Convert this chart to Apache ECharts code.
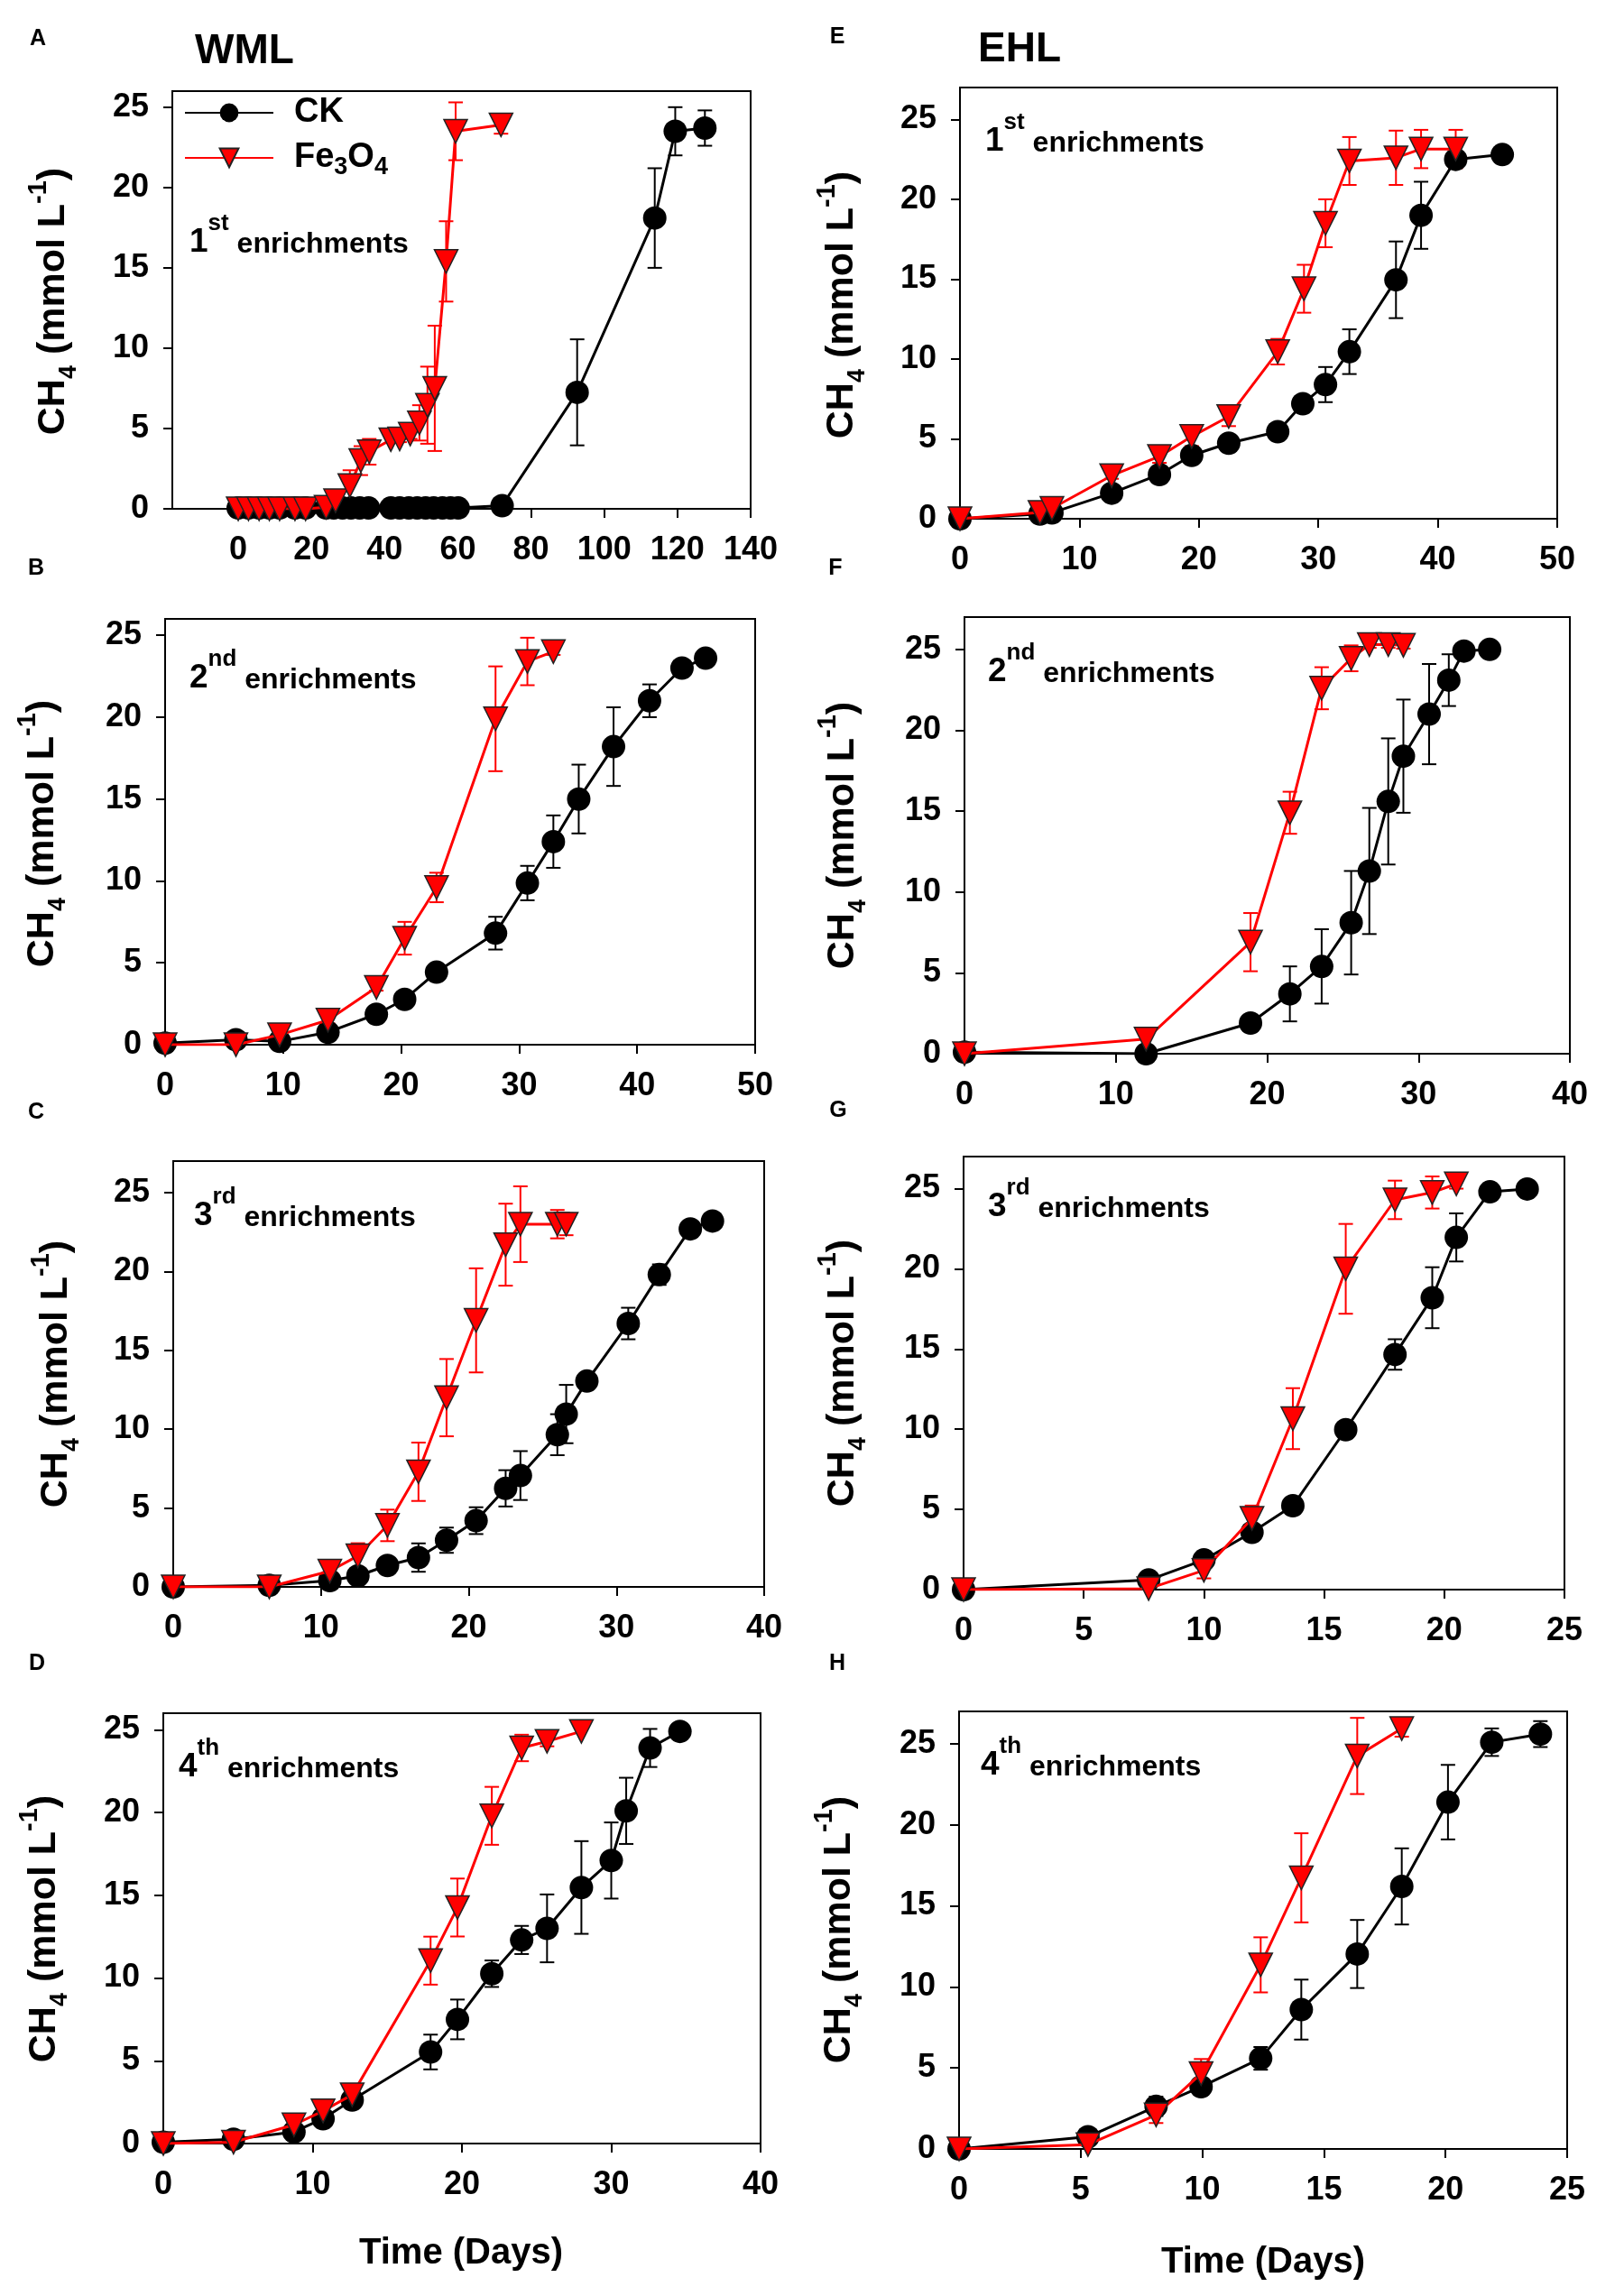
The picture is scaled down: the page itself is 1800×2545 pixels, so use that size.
<!DOCTYPE html>
<html>
<head>
<meta charset="utf-8">
<title>CH4 enrichments</title>
<script src="https://cdn.jsdelivr.net/npm/echarts@6/dist/echarts.min.js"></script>
<style>
  html, body { margin: 0; padding: 0; background: #fff; }
  #chart { width: 1800px; height: 2545px; }
</style>
</head>
<body>
<div id="chart"></div>
<script>
// ---- data (days, CH4 mmol/L, sd) ----
// A: WML 1st
const daysA_ck = [0, 2.8, 5.7, 8.5, 11.3, 15.5, 18.4, 24, 26.1, 28.5, 30.8, 33.2, 35.6, 41.7, 44.1, 46.6, 48.9, 51.2, 53.4, 55.8, 58, 60.1, 72.1, 92.6, 113.8, 119.4, 127.5];
const ckA = [0.05, 0.05, 0.05, 0.05, 0.05, 0.05, 0.05, 0.05, 0.05, 0.05, 0.05, 0.05, 0.05, 0.05, 0.05, 0.05, 0.05, 0.05, 0.05, 0.05, 0.05, 0.05, 0.2, 7.25, 18.1, 23.5, 23.7];
const ckA_err = [0, 0, 0, 0, 0, 0, 0, 0, 0, 0, 0, 0, 0, 0, 0, 0, 0, 0, 0, 0, 0, 0, 0, 3.3, 3.1, 1.5, 1.1];
const daysA_fe = [0, 2.8, 5.7, 8.5, 11.3, 15.5, 18.4, 24, 26.6, 30.5, 33.5, 35.8, 41.7, 44.1, 47, 49.5, 51.7, 53.7, 56.8, 59.4, 71.8];
const feA = [0, 0, 0, 0, 0, 0, 0, 0.1, 0.5, 1.45, 3.0, 3.55, 4.3, 4.35, 4.65, 5.35, 6.45, 7.5, 15.4, 23.5, 23.9];
const feA_err = [0, 0, 0, 0, 0, 0, 0, 0.1, 0.65, 0.95, 0.9, 0.8, 0.2, 0.2, 0.3, 1.1, 2.4, 3.9, 2.5, 1.8, 0.55];

// B: WML 2nd
const daysB_ck = [0, 6, 9.7, 13.8, 17.9, 20.3, 23.0, 28.0, 30.7, 32.9, 35.05, 38.0, 41.05, 43.8, 45.8];
const ckB = [0.1, 0.3, 0.2, 0.76, 1.86, 2.77, 4.43, 6.81, 9.87, 12.4, 15.0, 18.2, 21.0, 23.0, 23.6];
const ckB_err = [0, 0.1, 0.1, 0.2, 0.2, 0.2, 0.4, 1.0, 1.05, 1.6, 2.1, 2.4, 1.0, 0.3, 0.2];
const daysB_fe = [0, 6, 9.7, 13.8, 17.9, 20.3, 23.0, 28.0, 30.7, 32.9];
const feB = [0, 0, 0.6, 1.5, 3.5, 6.5, 9.6, 19.9, 23.4, 24.0];
const feB_err = [0, 0, 0.1, 0.2, 0.2, 1.0, 0.9, 3.2, 1.45, 0.2];

// C: WML 3rd
const daysC_ck = [0, 6.5, 10.6, 12.5, 14.5, 16.6, 18.5, 20.5, 22.5, 23.5, 26.0, 26.6, 28.0, 30.8, 32.9, 35.0, 36.5];
const ckC = [0, 0.1, 0.4, 0.7, 1.36, 1.86, 2.96, 4.2, 6.25, 7.06, 9.65, 10.96, 13.05, 16.7, 19.8, 22.7, 23.2];
const ckC_err = [0, 0, 0.1, 0.2, 0.2, 0.9, 0.8, 0.85, 1.15, 1.55, 1.3, 1.85, 0.5, 1.0, 0.65, 0.4, 0.5];
const daysC_fe = [0, 6.5, 10.6, 12.5, 14.5, 16.6, 18.5, 20.5, 22.5, 23.5, 26.0, 26.6];
const feC = [0, 0, 1.0, 1.97, 3.9, 7.3, 12.0, 16.9, 21.7, 23.0, 23.0, 23.0];
const feC_err = [0, 0, 0.5, 0.8, 1.0, 1.85, 2.45, 3.3, 2.6, 2.4, 0.9, 0.7];

// D: WML 4th
const daysD_ck = [0, 4.7, 8.75, 10.7, 12.65, 17.9, 19.7, 22.0, 24.0, 25.7, 28.0, 30.0, 31.0, 32.6, 34.6];
const ckD = [0.08, 0.26, 0.7, 1.5, 2.63, 5.53, 7.5, 10.26, 12.3, 13.0, 15.47, 17.1, 20.1, 23.9, 24.9];
const ckD_err = [0, 0.1, 0.2, 0.2, 0.2, 1.05, 1.2, 0.8, 0.85, 2.05, 2.8, 2.3, 2.0, 1.15, 0.2];
const daysD_fe = [0, 4.7, 8.75, 10.7, 12.65, 17.9, 19.7, 22.0, 24.0, 25.7, 28.0];
const feD = [0, 0.08, 1.13, 1.97, 2.95, 11.05, 14.26, 19.8, 23.9, 24.3, 24.9];
const feD_err = [0, 0, 0.1, 0.1, 0.2, 1.45, 1.75, 1.75, 0.8, 0.3, 0.1];

// E: EHL 1st
const daysE_ck = [0, 6.7, 7.7, 12.7, 16.7, 19.4, 22.5, 26.6, 28.7, 30.6, 32.6, 36.5, 38.6, 41.5, 45.4];
const ckE = [0, 0.3, 0.37, 1.6, 2.77, 3.97, 4.73, 5.45, 7.2, 8.4, 10.46, 14.96, 19.0, 22.5, 22.8];
const ckE_err = [0, 0.1, 0.1, 0.2, 0.2, 0.2, 0.2, 0.3, 0.35, 1.1, 1.4, 2.4, 2.1, 0.3, 0.2];
const daysE_fe = [0, 6.7, 7.7, 12.7, 16.7, 19.4, 22.5, 26.6, 28.8, 30.6, 32.6, 36.5, 38.6, 41.5];
const feE = [0, 0.4, 0.65, 2.7, 3.9, 5.15, 6.4, 10.46, 14.4, 18.5, 22.4, 22.6, 23.15, 23.15];
const feE_err = [0, 0.1, 0.1, 0.2, 0.4, 0.6, 0.6, 0.8, 1.5, 1.5, 1.5, 1.7, 1.2, 1.2];

// F: EHL 2nd
const daysF_ck = [0, 12.0, 18.9, 21.5, 23.6, 25.55, 26.75, 28.0, 29.0, 30.7, 32.0, 33.0, 34.7];
const ckF = [0.1, 0, 1.9, 3.7, 5.4, 8.1, 11.3, 15.6, 18.4, 21.0, 23.1, 24.9, 25.0];
const ckF_err = [0, 0, 0.3, 1.7, 2.3, 3.2, 3.9, 3.9, 3.5, 3.1, 1.6, 0.2, 0.2];
const daysF_fe = [0, 12.0, 18.9, 21.5, 23.6, 25.55, 26.75, 28.0, 29.0];
const feF = [0, 0.9, 6.9, 14.9, 22.6, 24.45, 25.3, 25.3, 25.25];
const feF_err = [0, 0.1, 1.8, 1.3, 1.3, 0.8, 0.2, 0.2, 0.2];

// G: EHL 3rd
const daysG_ck = [0, 7.7, 10.0, 12.0, 13.7, 15.9, 17.95, 19.5, 20.5, 21.9, 23.45];
const ckG = [0, 0.6, 1.85, 3.57, 5.23, 9.97, 14.66, 18.2, 21.96, 24.8, 24.98];
const ckG_err = [0, 0.1, 0.2, 0.3, 0.3, 0.3, 0.95, 1.9, 1.5, 0.2, 0.2];
const daysG_fe = [0, 7.7, 10.0, 12.0, 13.7, 15.9, 17.95, 19.5, 20.5];
const feG = [0, 0.06, 1.2, 4.44, 10.66, 20.0, 24.3, 24.76, 25.3];
const feG_err = [0, 0, 0.5, 0.8, 1.9, 2.8, 1.2, 1.0, 0.3];

// H: EHL 4th
const daysH_ck = [0, 5.3, 8.1, 9.95, 12.4, 14.07, 16.37, 18.2, 20.1, 21.9, 23.9];
const ckH = [0, 0.75, 2.63, 3.84, 5.59, 8.6, 12.03, 16.2, 21.4, 25.1, 25.6];
const ckH_err = [0, 0.4, 0.6, 0.3, 0.7, 1.85, 2.1, 2.35, 2.3, 0.85, 0.8];
const daysH_fe = [0, 5.3, 8.1, 9.95, 12.4, 14.07, 16.37, 18.2];
const feH = [0, 0.27, 2.1, 4.65, 11.36, 16.73, 24.25, 25.94];
const feH_err = [0, 0, 0.5, 0.9, 1.7, 2.75, 2.35, 0.5];

// tick labels
const xTicksA = [0, 20, 40, 60, 80, 100, 120, 140];
const xTicks50 = [0, 10, 20, 30, 40, 50];
const xTicks40 = [0, 10, 20, 30, 40];
const xTicks25 = [0, 5, 10, 15, 20, 25];
const yTicks = [0, 5, 10, 15, 20, 25];

// ---- layout ----
const FONT = '"Liberation Sans", Arial, sans-serif';
const RED = '#ff0000';

// box = [left, top, right, bottom] in page px
const panels = [
  { id: 'A', box: [191, 101, 832, 564], xMin: -18, xMax: 140, xTicks: xTicksA, yMax: 26,
    ck: [daysA_ck, ckA, ckA_err], fe: [daysA_fe, feA, feA_err],
    tag: [42, 43], note: ['1', 'st', 210, 261], yTitle: [59, 334] },
  { id: 'B', box: [183, 686, 837, 1158], xMin: 0, xMax: 50, xTicks: xTicks50, yMax: 26,
    ck: [daysB_ck, ckB, ckB_err], fe: [daysB_fe, feB, feB_err],
    tag: [40, 630], note: ['2', 'nd', 210, 744], yTitle: [47, 924] },
  { id: 'C', box: [192, 1287, 847, 1759], xMin: 0, xMax: 40, xTicks: xTicks40, yMax: 27,
    ck: [daysC_ck, ckC, ckC_err], fe: [daysC_fe, feC, feC_err],
    tag: [40, 1233], note: ['3', 'rd', 215, 1340], yTitle: [62, 1523] },
  { id: 'D', box: [181, 1899, 843, 2376], xMin: 0, xMax: 40, xTicks: xTicks40, yMax: 26,
    ck: [daysD_ck, ckD, ckD_err], fe: [daysD_fe, feD, feD_err],
    tag: [41, 1844], note: ['4', 'th', 198, 1951], yTitle: [49, 2138], xTitle: [511, 2498] },
  { id: 'E', box: [1064, 97, 1726, 575], xMin: 0, xMax: 50, xTicks: xTicks50, yMax: 27,
    ck: [daysE_ck, ckE, ckE_err], fe: [daysE_fe, feE, feE_err],
    tag: [928, 41], note: ['1', 'st', 1092, 149], yTitle: [933, 338] },
  { id: 'F', box: [1069, 684, 1740, 1168], xMin: 0, xMax: 40, xTicks: xTicks40, yMax: 27,
    ck: [daysF_ck, ckF, ckF_err], fe: [daysF_fe, feF, feF_err],
    tag: [926, 630], note: ['2', 'nd', 1095, 737], yTitle: [934, 926] },
  { id: 'G', box: [1068, 1282, 1734, 1762], xMin: 0, xMax: 25, xTicks: xTicks25, yMax: 27,
    ck: [daysG_ck, ckG, ckG_err], fe: [daysG_fe, feG, feG_err],
    tag: [929, 1231], note: ['3', 'rd', 1095, 1330], yTitle: [934, 1522] },
  { id: 'H', box: [1063, 1897, 1737, 2382], xMin: 0, xMax: 25, xTicks: xTicks25, yMax: 27,
    ck: [daysH_ck, ckH, ckH_err], fe: [daysH_fe, feH, feH_err],
    tag: [928, 1844], note: ['4', 'th', 1087, 1949], yTitle: [930, 2139], xTitle: [1400, 2508] },
];

function errorBars(color) {
  return function (params, api) {
    const x = api.value(0);
    const lo = api.value(1);
    const hi = api.value(2);
    if (hi - lo < 0.35) return;
    const top = api.coord([x, hi]);
    const bot = api.coord([x, lo]);
    const w = 8;
    const style = { stroke: color, lineWidth: 2 };
    return {
      type: 'group',
      children: [
        { type: 'line', shape: { x1: top[0], y1: top[1], x2: bot[0], y2: bot[1] }, style },
        { type: 'line', shape: { x1: top[0] - w, y1: top[1], x2: top[0] + w, y2: top[1] }, style },
        { type: 'line', shape: { x1: bot[0] - w, y1: bot[1], x2: bot[0] + w, y2: bot[1] }, style },
      ],
    };
  };
}

const grids = [], xAxes = [], yAxes = [], series = [], graphics = [];

const axisCommon = {
  axisLine: { show: true, onZero: false, lineStyle: { color: '#000', width: 2 } },
  axisTick: { show: true, inside: false, length: 10, lineStyle: { color: '#000', width: 2 } },
  splitLine: { show: false },
};
const labelCommon = { color: '#000', fontSize: 36, fontWeight: 'bold', fontFamily: FONT };

panels.forEach((p, i) => {
  const [l, t, r, b] = p.box;
  grids.push({ left: l, top: t, width: r - l, height: b - t, show: true,
    borderColor: '#000', borderWidth: 2, backgroundColor: 'transparent' });

  xAxes.push(Object.assign({}, axisCommon, {
    type: 'value', gridIndex: i, min: p.xMin, max: p.xMax,
    axisTick: Object.assign({}, axisCommon.axisTick, { customValues: p.xTicks }),
    axisLabel: Object.assign({}, labelCommon, { margin: 28, customValues: p.xTicks }),
  }));
  yAxes.push(Object.assign({}, axisCommon, {
    type: 'value', gridIndex: i, min: 0, max: p.yMax,
    axisTick: Object.assign({}, axisCommon.axisTick, { customValues: yTicks }),
    axisLabel: Object.assign({}, labelCommon, { margin: 26, customValues: yTicks }),
  }));

  const [dc, vc, ec] = p.ck;
  const [df, vf, ef] = p.fe;

  series.push({
    type: 'custom', xAxisIndex: i, yAxisIndex: i, z: 1, silent: true,
    renderItem: errorBars('#000'), encode: { x: 0, y: [1, 2] },
    data: dc.map((d, k) => [d, vc[k] - ec[k], vc[k] + ec[k]]),
  });
  series.push({
    type: 'custom', xAxisIndex: i, yAxisIndex: i, z: 1, silent: true,
    renderItem: errorBars(RED), encode: { x: 0, y: [1, 2] },
    data: df.map((d, k) => [d, vf[k] - ef[k], vf[k] + ef[k]]),
  });
  series.push({
    name: 'CK', type: 'line', xAxisIndex: i, yAxisIndex: i, z: 3,
    symbol: 'circle', symbolSize: 26,
    itemStyle: { color: '#000' },
    lineStyle: { color: '#000', width: 3 },
    data: dc.map((d, k) => [d, vc[k]]),
  });
  series.push({
    name: 'Fe3O4', type: 'line', xAxisIndex: i, yAxisIndex: i, z: 4,
    symbol: 'triangle', symbolRotate: 180, symbolSize: 26,
    itemStyle: { color: RED, borderColor: '#222', borderWidth: 1.5 },
    lineStyle: { color: RED, width: 3 },
    data: df.map((d, k) => [d, vf[k]]),
  });

  // panel letter
  graphics.push({ type: 'text', x: p.tag[0], y: p.tag[1],
    style: { text: p.id, font: 'bold 25px ' + FONT, fill: '#000', align: 'center', verticalAlign: 'middle' } });

  // enrichment note
  graphics.push({ type: 'text', x: p.note[2], y: p.note[3],
    style: {
      text: '{n|' + p.note[0] + '}{s|' + p.note[1] + '}{e| enrichments}',
      align: 'left', verticalAlign: 'middle',
      rich: {
        n: { fontSize: 37, fontWeight: 'bold', fontFamily: FONT, lineHeight: 52, verticalAlign: 'bottom', fill: '#000' },
        s: { fontSize: 26, fontWeight: 'bold', fontFamily: FONT, lineHeight: 52, verticalAlign: 'top', fill: '#000' },
        e: { fontSize: 32, fontWeight: 'bold', fontFamily: FONT, lineHeight: 52, verticalAlign: 'bottom', fill: '#000' },
      },
    } });

  // y axis title
  graphics.push({ type: 'text', x: p.yTitle[0], y: p.yTitle[1], rotation: Math.PI / 2,
    style: {
      text: '{m|CH}{b|4}{m| (mmol L}{p|-1}{m|)}',
      align: 'center', verticalAlign: 'middle',
      rich: {
        m: { fontSize: 43, fontWeight: 'bold', fontFamily: FONT, lineHeight: 62, verticalAlign: 'middle', fill: '#000' },
        b: { fontSize: 27, fontWeight: 'bold', fontFamily: FONT, lineHeight: 62, verticalAlign: 'bottom', fill: '#000' },
        p: { fontSize: 29, fontWeight: 'bold', fontFamily: FONT, lineHeight: 62, verticalAlign: 'top', fill: '#000' },
      },
    } });

  if (p.xTitle) {
    graphics.push({ type: 'text', x: p.xTitle[0], y: p.xTitle[1],
      style: { text: 'Time (Days)', font: 'bold 40px ' + FONT, fill: '#000', align: 'center', verticalAlign: 'middle' } });
  }
});

// column headings
graphics.push({ type: 'text', x: 271, y: 57,
  style: { text: 'WML', font: 'bold 46px ' + FONT, fill: '#000', align: 'center', verticalAlign: 'middle' } });
graphics.push({ type: 'text', x: 1130, y: 55,
  style: { text: 'EHL', font: 'bold 46px ' + FONT, fill: '#000', align: 'center', verticalAlign: 'middle' } });

const chart = echarts.init(document.getElementById('chart'), null, { renderer: 'canvas' });
chart.setOption({
  animation: false,
  backgroundColor: '#fff',
  grid: grids,
  xAxis: xAxes,
  yAxis: yAxes,
  legend: {
    data: ['CK', 'Fe3O4'],
    orient: 'vertical',
    left: 204, top: 106,
    padding: 0,
    itemWidth: 98, itemHeight: 26, itemGap: 12,
    selectedMode: false,
    formatter: (name) => name === 'Fe3O4' ? '{n|Fe}{s|3}{n|O}{s|4}' : '{n|CK}',
    textStyle: {
      padding: [0, 0, 0, 18],
      rich: {
        n: { fontSize: 38, fontWeight: 'bold', fontFamily: FONT, color: '#000', lineHeight: 48, verticalAlign: 'middle' },
        s: { fontSize: 27, fontWeight: 'bold', fontFamily: FONT, color: '#000', lineHeight: 48, verticalAlign: 'bottom' },
      },
    },
  },
  graphic: graphics,
  series: series,
});
</script>
</body>
</html>
